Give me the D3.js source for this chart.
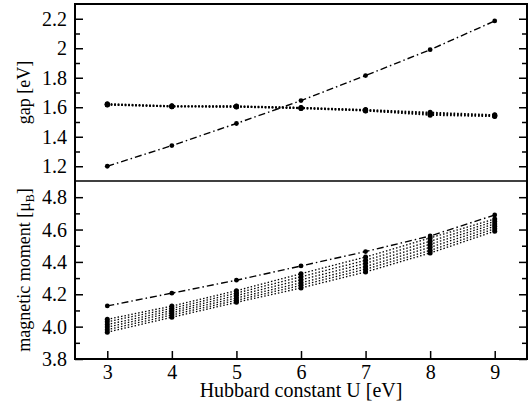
<!DOCTYPE html>
<html>
<head>
<meta charset="utf-8">
<script src="https://cdn.jsdelivr.net/npm/d3@7"></script>
<style>
  body { margin: 0; background: #fff; }
  text { font-family: "Liberation Serif", "DejaVu Serif", serif; fill: #000; }
  .domain { display: none; }
</style>
</head>
<body>
<script>
var U = [3, 4, 5, 6, 7, 8, 9];

// top panel: band gap [eV]
var gapDashDot = [1.2, 1.34, 1.49, 1.645, 1.815, 1.99, 2.185];
var gapDotted = [
  [1.624, 1.61, 1.609, 1.599, 1.584, 1.566, 1.549],
  [1.621, 1.608, 1.607, 1.597, 1.582, 1.561, 1.546],
  [1.619, 1.606, 1.605, 1.595, 1.58, 1.556, 1.543],
  [1.617, 1.604, 1.603, 1.593, 1.577, 1.551, 1.54],
  [1.615, 1.603, 1.601, 1.591, 1.575, 1.546, 1.537]
];

// bottom panel: magnetic moment [muB]
var momDashDot = [4.128, 4.207, 4.287, 4.375, 4.464, 4.56, 4.69];
var momDotted = [
  [4.045, 4.127, 4.222, 4.327, 4.43, 4.548, 4.665],
  [4.03, 4.113, 4.207, 4.308, 4.41, 4.528, 4.65],
  [4.013, 4.099, 4.192, 4.289, 4.391, 4.509, 4.635],
  [3.997, 4.086, 4.177, 4.271, 4.372, 4.49, 4.62],
  [3.981, 4.072, 4.163, 4.255, 4.355, 4.471, 4.605],
  [3.966, 4.058, 4.15, 4.239, 4.338, 4.455, 4.59]
];

var xTicks = [3, 4, 5, 6, 7, 8, 9];
var gapTicks = [1.2, 1.4, 1.6, 1.8, 2, 2.2];
var gapMinor = [1.3, 1.5, 1.7, 1.9, 2.1];
var gapLabels = ["1.2", "1.4", "1.6", "1.8", "2", "2.2"];
var momTicks = [3.8, 4.0, 4.2, 4.4, 4.6, 4.8];
var momMinor = [3.9, 4.1, 4.3, 4.5, 4.7];
var momLabels = ["3.8", "4.0", "4.2", "4.4", "4.6", "4.8"];

var width = 532, height = 413;
var pLeft = 75, pRight = 527, pTop = 4, pMid = 181, pBottom = 359;
var serif = '"Liberation Serif", "DejaVu Serif", serif';

var svg = d3.select('body').append('svg')
    .attr('width', width)
    .attr('height', height);

var x = d3.scaleLinear().domain([2.5, 9.5]).range([pLeft, pRight]);
var yGap = d3.scaleLinear().domain([1.1, 2.3]).range([pMid, pTop]);
var yMom = d3.scaleLinear().domain([3.8, 4.9]).range([pBottom, pMid]);

var dashDot = "7,3,1.5,3";
var dots = "1.5,2";

function panel(y, ticks, minor, labels, dd, dotted) {
    // left axis, inward ticks
    svg.append('g')
        .attr('transform', 'translate(' + pLeft + ',0)')
        .call(d3.axisLeft(y).tickValues(ticks).tickSize(-8).tickPadding(8)
            .tickFormat(function(d, i) { return labels[i]; }))
        .call(function(g) {
            g.attr('font-family', serif);
            g.selectAll('text').attr('font-size', 20).attr('dy', '0.33em');
            g.selectAll('line').attr('stroke-width', 1.5);
        });
    svg.append('g')
        .attr('transform', 'translate(' + pLeft + ',0)')
        .call(d3.axisLeft(y).tickValues(minor).tickSize(-5).tickFormat(''))
        .selectAll('line').attr('stroke-width', 1.5);
    // right axis, mirrored
    svg.append('g')
        .attr('transform', 'translate(' + pRight + ',0)')
        .call(d3.axisRight(y).tickValues(ticks).tickSize(-8).tickFormat(''))
        .selectAll('line').attr('stroke-width', 1.5);
    svg.append('g')
        .attr('transform', 'translate(' + pRight + ',0)')
        .call(d3.axisRight(y).tickValues(minor).tickSize(-5).tickFormat(''))
        .selectAll('line').attr('stroke-width', 1.5);

    var line = d3.line()
        .x(function(d, i) { return x(U[i]); })
        .y(function(d) { return y(d); });

    dotted.forEach(function(s) {
        svg.append('path')
            .attr('d', line(s))
            .attr('fill', 'none')
            .attr('stroke', '#000')
            .attr('stroke-width', 1.3)
            .attr('stroke-dasharray', dots);
        svg.append('g').selectAll('circle')
            .data(s)
            .enter().append('circle')
            .attr('cx', function(d, i) { return x(U[i]); })
            .attr('cy', function(d) { return y(d); })
            .attr('r', 2.5);
    });

    svg.append('path')
        .attr('d', line(dd))
        .attr('fill', 'none')
        .attr('stroke', '#000')
        .attr('stroke-width', 1.4)
        .attr('stroke-dasharray', dashDot);
    svg.append('g').selectAll('circle')
        .data(dd)
        .enter().append('circle')
        .attr('cx', function(d, i) { return x(U[i]); })
        .attr('cy', function(d) { return y(d); })
        .attr('r', 2.4);
}

panel(yGap, gapTicks, gapMinor, gapLabels, gapDashDot, gapDotted);
panel(yMom, momTicks, momMinor, momLabels, momDashDot, momDotted);

// bottom x axis
svg.append('g')
    .attr('transform', 'translate(0,' + pBottom + ')')
    .call(d3.axisBottom(x).tickValues(xTicks).tickSize(-8).tickPadding(6).tickFormat(d3.format('d')))
    .call(function(g) {
        g.attr('font-family', serif);
        g.selectAll('text').attr('font-size', 20);
        g.selectAll('line').attr('stroke-width', 1.5);
    });

// frame and panel separator
svg.append('rect')
    .attr('x', pLeft).attr('y', pTop)
    .attr('width', pRight - pLeft).attr('height', pBottom - pTop)
    .attr('fill', 'none').attr('stroke', '#000').attr('stroke-width', 2);
svg.append('line')
    .attr('x1', pLeft).attr('x2', pRight)
    .attr('y1', pMid).attr('y2', pMid)
    .attr('stroke', '#000').attr('stroke-width', 1.5);

// axis titles
svg.append('text')
    .attr('transform', 'translate(' + 30 + ',' + (pTop + pMid) / 2 + ') rotate(-90)')
    .attr('text-anchor', 'middle')
    .attr('font-size', 18)
    .text('gap [eV]');

var mm = svg.append('text')
    .attr('transform', 'translate(' + 30 + ',' + (pMid + pBottom) / 2 + ') rotate(-90)')
    .attr('text-anchor', 'middle')
    .attr('font-size', 18);
mm.append('tspan').text('magnetic moment [\u03bc');
mm.append('tspan').attr('font-size', 12).attr('dy', 4).text('B');
mm.append('tspan').attr('dy', -4).text(']');

svg.append('text')
    .attr('x', (pLeft + pRight) / 2)
    .attr('y', 397)
    .attr('text-anchor', 'middle')
    .attr('font-size', 20)
    .text('Hubbard constant U [eV]');
</script>
</body>
</html>
